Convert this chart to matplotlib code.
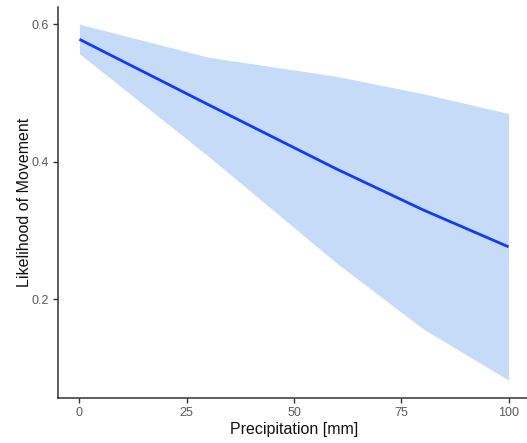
import matplotlib
matplotlib.use("Agg")
import matplotlib.pyplot as plt

# Fitted likelihood of movement vs precipitation with confidence band
precip = [0, 30, 60, 80, 100]
fit = [0.578, 0.483, 0.389, 0.330, 0.276]
upper = [0.600, 0.552, 0.524, 0.499, 0.470]
lower = [0.557, 0.408, 0.252, 0.157, 0.082]

x_ticks = [0, 25, 50, 75, 100]
y_ticks = [0.2, 0.4, 0.6]

plt.rcParams["font.family"] = ["Liberation Sans", "DejaVu Sans"]

fig = plt.figure(figsize=(5.27, 4.43), dpi=100)
ax = fig.add_axes([58 / 527, 45 / 443, 472 / 527, 391 / 443])

ax.fill_between(precip, lower, upper, color="#c6dbf7", linewidth=0)
ax.plot(precip, fit, color="#0f3bff", linewidth=2.0, solid_capstyle="butt")

ax.set_xlim(-5, 105)
ax.set_ylim(0.056, 0.625)
ax.set_xticks(x_ticks)
ax.set_xticklabels([str(v) for v in x_ticks])
ax.set_yticks(y_ticks)
ax.set_yticklabels([f"{v:.1f}" for v in y_ticks])

for side in ("top", "right"):
    ax.spines[side].set_visible(False)
for side in ("left", "bottom"):
    ax.spines[side].set_color("#333333")
    ax.spines[side].set_linewidth(1.1)

ax.tick_params(axis="both", colors="#333333", length=3.5, width=1.0,
               labelsize=9, labelcolor="#5a5a5a", pad=3)

ax.set_xlabel("Precipitation [mm]", fontsize=11.5, color="#111111", labelpad=2)
ax.set_ylabel("Likelihood of Movement", fontsize=11.5, color="#111111", labelpad=0)

fig.savefig("out.png", dpi=100)
